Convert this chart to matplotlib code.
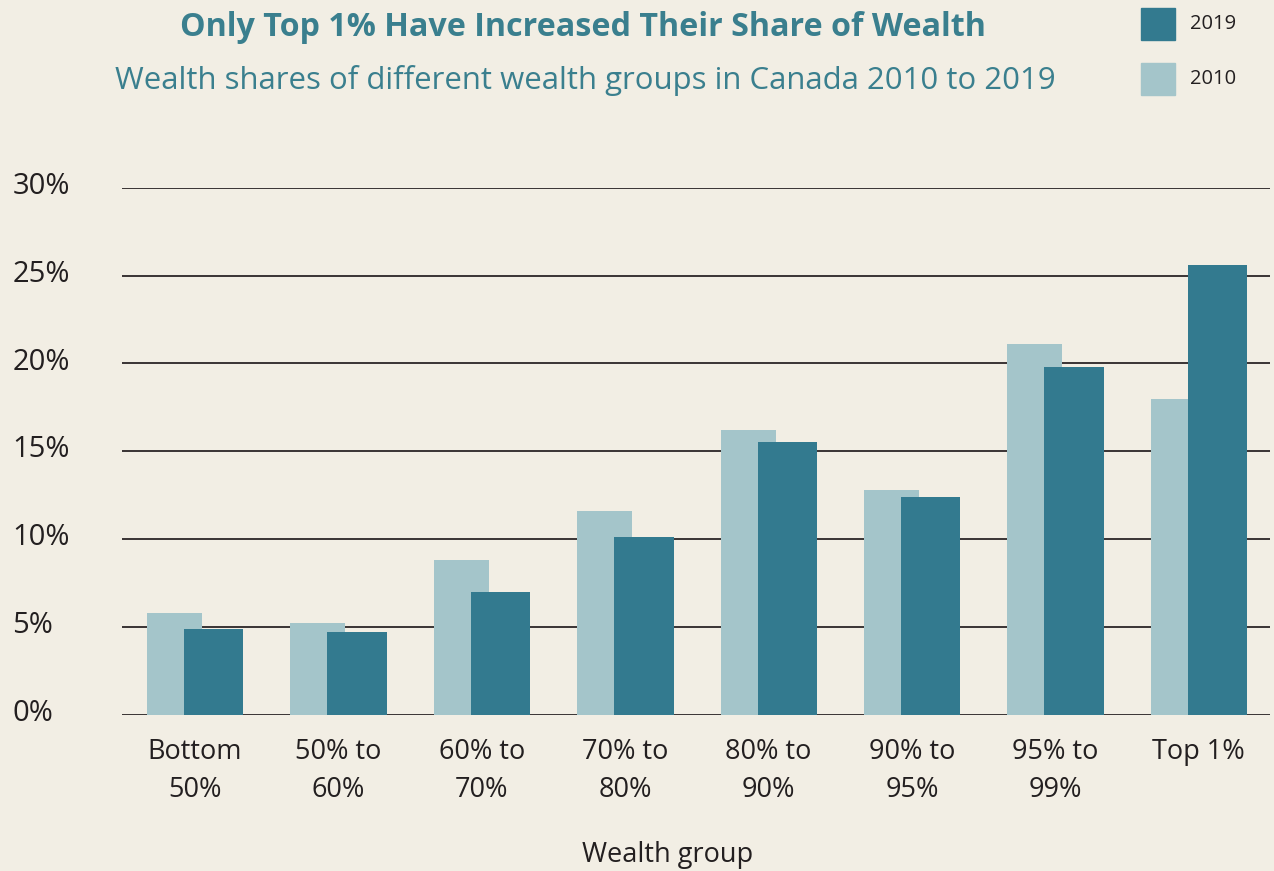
import matplotlib
matplotlib.use("Agg")
import matplotlib.pyplot as plt
import matplotlib.transforms as mtransforms
import numpy as np
from matplotlib.patches import Rectangle

categories = ["Bottom\n50%", "50% to\n60%", "60% to\n70%", "70% to\n80%",
              "80% to\n90%", "90% to\n95%", "95% to\n99%", "Top 1%"]
share_2010 = [5.8, 5.2, 8.8, 11.6, 16.2, 12.8, 21.1, 18.0]
share_2019 = [4.9, 4.7, 7.0, 10.1, 15.5, 12.4, 19.8, 25.6]
yticks = [0, 5, 10, 15, 20, 25, 30]
ytick_labels = ["0%", "5%", "10%", "15%", "20%", "25%", "30%"]

BG = "#f2eee4"
C2019 = "#337a8f"
C2010 = "#a4c5ca"
TXT = "#231f20"
TEAL = "#3a7f8e"

plt.rcParams['font.family'] = ['Open Sans', 'DejaVu Sans']

W, H = 1274, 871
fig = plt.figure(figsize=(W / 100, H / 100), dpi=100, facecolor=BG)
ax = fig.add_axes([122 / W, (H - 714.5) / H, 1148 / W, (714.5 - 188) / H])
ax.set_facecolor(BG)

x = np.arange(len(categories))
ax.bar(x - 0.335, share_2010, width=0.384, align='edge', color=C2010, zorder=3)
ax.bar(x - 0.077, share_2019, width=0.415, align='edge', color=C2019, zorder=4)

ax.set_xlim(-0.509, 7.497)
ax.set_ylim(0, 30)
ax.set_yticks(yticks)
ax.set_yticklabels(ytick_labels, ha='left', fontweight='medium')
ax.set_xticks(x)
ax.set_xticklabels(categories, linespacing=1.45, fontweight='medium')
ax.tick_params(axis='y', length=0, pad=79, labelsize=21, labelcolor=TXT)
ax.tick_params(axis='x', length=0, pad=17, labelsize=19.5, labelcolor=TXT)
offset = mtransforms.ScaledTranslation(0, 5 / 100, fig.dpi_scale_trans)
for lab in ax.get_yticklabels():
    lab.set_transform(lab.get_transform() + offset)
for s in ax.spines.values():
    s.set_visible(False)
ax.yaxis.grid(True, color="#2b2526", lw=1.3, zorder=1)
ax.set_axisbelow(True)

fig.text(583 / W, 1 - 28 / H, "Only Top 1% Have Increased Their Share of Wealth",
         ha='center', va='center', fontsize=23.2, fontweight='bold', color=TEAL)
fig.text(585 / W, 1 - 81 / H, "Wealth shares of different wealth groups in Canada 2010 to 2019",
         ha='center', va='center', fontsize=22.4, color=TEAL)
fig.text(668 / W, 1 - 855 / H, "Wealth group", ha='center', va='center',
         fontsize=19.5, fontweight='medium', color=TXT)

# legend
for (yc, col, lab) in [(24, C2019, "2019"), (79, C2010, "2010")]:
    fig.add_artist(Rectangle((1141 / W, 1 - (yc + 16) / H), 34 / W, 32 / H,
                             transform=fig.transFigure, color=col))
    fig.text(1190 / W, 1 - yc / H, lab, ha='left', va='center', fontsize=14.5,
             fontweight='medium', color=TXT)

fig.savefig("out.png", dpi=100, facecolor=BG)
